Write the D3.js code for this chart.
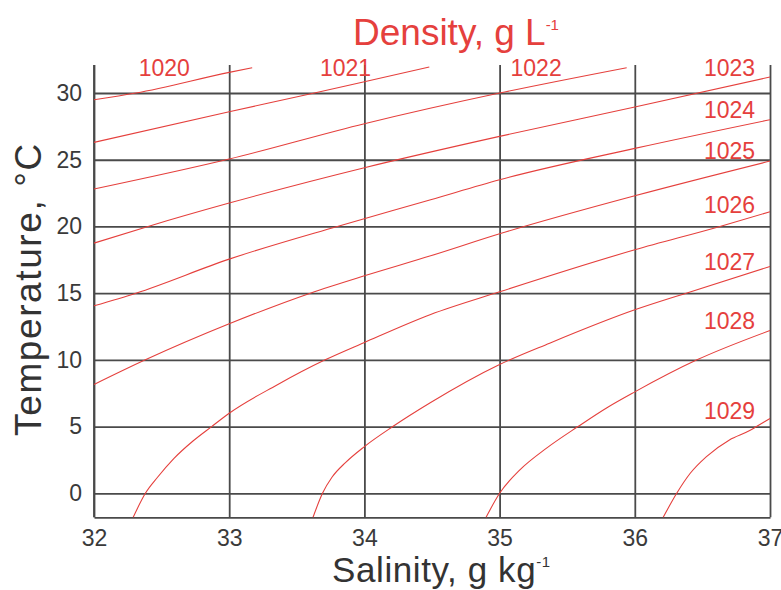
<!DOCTYPE html>
<html>
<head>
<meta charset="utf-8">
<script src="https://cdn.jsdelivr.net/npm/d3@7"></script>
<style>
  body { margin: 0; background: #fff; }
  svg { font-family: "Liberation Sans", Arial, sans-serif; }
</style>
</head>
<body>
<svg id="tsChart"></svg>
<script>
// axis ticks
var salinityTicks = [32, 33, 34, 35, 36, 37];
var temperatureTicks = [0, 5, 10, 15, 20, 25, 30];

// density isolines, [salinity, temperature]
var rho1020 = [[32, 29.5], [32.31, 30], [33, 31.55], [33.17, 31.9]];
var rho1021 = [[32, 26.3], [33, 28.6], [33.63, 30], [34, 30.85], [34.48, 31.95]];
var rho1022 = [[32, 22.8], [33, 25.05], [34, 27.7], [35, 30.0], [35.94, 31.9]];
var rho1023 = [[32, 18.75], [32.4, 20], [33, 21.75], [34, 24.4], [35, 26.75], [36, 28.95], [37, 31.2]];
var rho1024 = [[32, 14.05], [32.31, 15], [33, 17.55], [33.8, 20], [34.49, 22.0], [35, 23.5], [36, 25.85], [37, 28.0]];
var rho1025 = [[32, 8.15], [32.38, 10], [33, 12.7], [33.6, 15], [34, 16.3], [34.49, 17.8], [35, 19.45], [36, 22.3], [37, 24.9]];
var rho1026 = [[32.29, -1.8], [32.38, 0], [32.47, 1.2], [32.59, 2.6], [32.73, 3.9], [32.87, 5], [33, 6.0], [33.35, 8.1], [33.71, 10], [34, 11.3], [34.49, 13.4], [35, 15.1], [36, 18.25], [36.63, 20], [37, 21.1]];
var rho1027 = [[33.62, -1.8], [33.69, 0], [33.76, 1.2], [33.86, 2.3], [34, 3.5], [34.21, 5], [34.49, 6.8], [35, 9.65], [35.37, 11.25], [36, 13.75], [36.38, 15], [37, 17.0]];
var rho1028 = [[34.90, -1.8], [35.0, 0], [35.15, 1.75], [35.35, 3.4], [35.58, 5], [35.8, 6.45], [36, 7.6], [36.46, 10], [37, 12.2]];
var rho1029 = [[36.21, -1.8], [36.31, 0], [36.41, 1.5], [36.53, 2.75], [36.70, 4.0], [36.85, 4.7], [36.9, 5.0], [37, 5.6]];

var densityLevels = [1020, 1021, 1022, 1023, 1024, 1025, 1026, 1027, 1028, 1029];
var isolines = [rho1020, rho1021, rho1022, rho1023, rho1024, rho1025, rho1026, rho1027, rho1028, rho1029];

// where each level label sits, [salinity, temperature]
var labelAt = [[32.52, 31.25], [33.86, 31.25], [35.27, 31.25], [36.89, 31.25], [36.89, 28.1],
               [36.89, 25.05], [36.89, 21.0], [36.89, 16.75], [36.89, 12.3], [36.89, 5.6]];

var red = "#e5403d";
var gridColor = "#4a4a4a";

var svg = d3.select("#tsChart")
    .attr("width", 781)
    .attr("height", 590);

var x = d3.scaleLinear().domain([32, 37]).range([94, 770]);
var y = d3.scaleLinear().domain([-1.8, 32.1]).range([517.3, 65]);

// horizontal grid + temperature labels
var yAxis = svg.append("g")
    .attr("transform", "translate(94,0)")
    .call(d3.axisLeft(y).tickValues(temperatureTicks).tickSize(-676).tickSizeOuter(0).tickPadding(12));

// vertical grid + salinity labels
var xAxis = svg.append("g")
    .attr("transform", "translate(0,517.3)")
    .call(d3.axisBottom(x).tickValues(salinityTicks).tickFormat(d3.format("d"))
        .tickSize(-452.3).tickSizeOuter(0).tickPadding(12));

[xAxis, yAxis].forEach(function(ax) {
    ax.select(".domain").attr("stroke", gridColor).attr("stroke-width", 1.8);
    ax.selectAll(".tick line").attr("stroke", gridColor).attr("stroke-width", 1.8);
    ax.selectAll(".tick text")
        .attr("fill", "#3a3a3a")
        .style("font-size", "23px")
        .style("font-family", "'Liberation Sans', Arial, sans-serif");
});
yAxis.select(".domain").remove();
svg.append("line")
    .attr("x1", x(32)).attr("x2", x(32))
    .attr("y1", y(32.1)).attr("y2", y(-1.8))
    .attr("stroke", gridColor).attr("stroke-width", 1.8);

// isolines
var line = d3.line()
    .x(d => x(d[0]))
    .y(d => y(d[1]))
    .curve(d3.curveMonotoneX);

svg.append("g").selectAll("path")
    .data(isolines)
    .enter().append("path")
    .attr("d", line)
    .attr("fill", "none")
    .attr("stroke", red)
    .attr("stroke-width", 1.1);

svg.append("g").selectAll("text")
    .data(densityLevels)
    .enter().append("text")
    .attr("x", (d, i) => x(labelAt[i][0]))
    .attr("y", (d, i) => y(labelAt[i][1]))
    .attr("text-anchor", (d, i) => i < 3 ? "middle" : "end")
    .attr("fill", red)
    .style("font-size", "23px")
    .text(d => d);

// titles
var densityTitle = svg.append("text")
    .attr("x", 353).attr("y", 45)
    .attr("fill", red)
    .style("font-size", "37px")
    .text("Density, g L");
densityTitle.append("tspan").attr("dy", -15).style("font-size", "15px").text("-1");

var salinityTitle = svg.append("text")
    .attr("x", 332).attr("y", 582)
    .attr("fill", "#333")
    .style("font-size", "35px")
    .style("letter-spacing", "0.6px")
    .text("Salinity, g kg");
salinityTitle.append("tspan").attr("dy", -15).style("font-size", "15px").text("-1");

svg.append("text")
    .attr("transform", "translate(41,289) rotate(-90)")
    .attr("text-anchor", "middle")
    .attr("fill", "#333")
    .style("font-size", "37px")
    .style("letter-spacing", "1.6px")
    .text("Temperature, °C");
</script>
</body>
</html>
